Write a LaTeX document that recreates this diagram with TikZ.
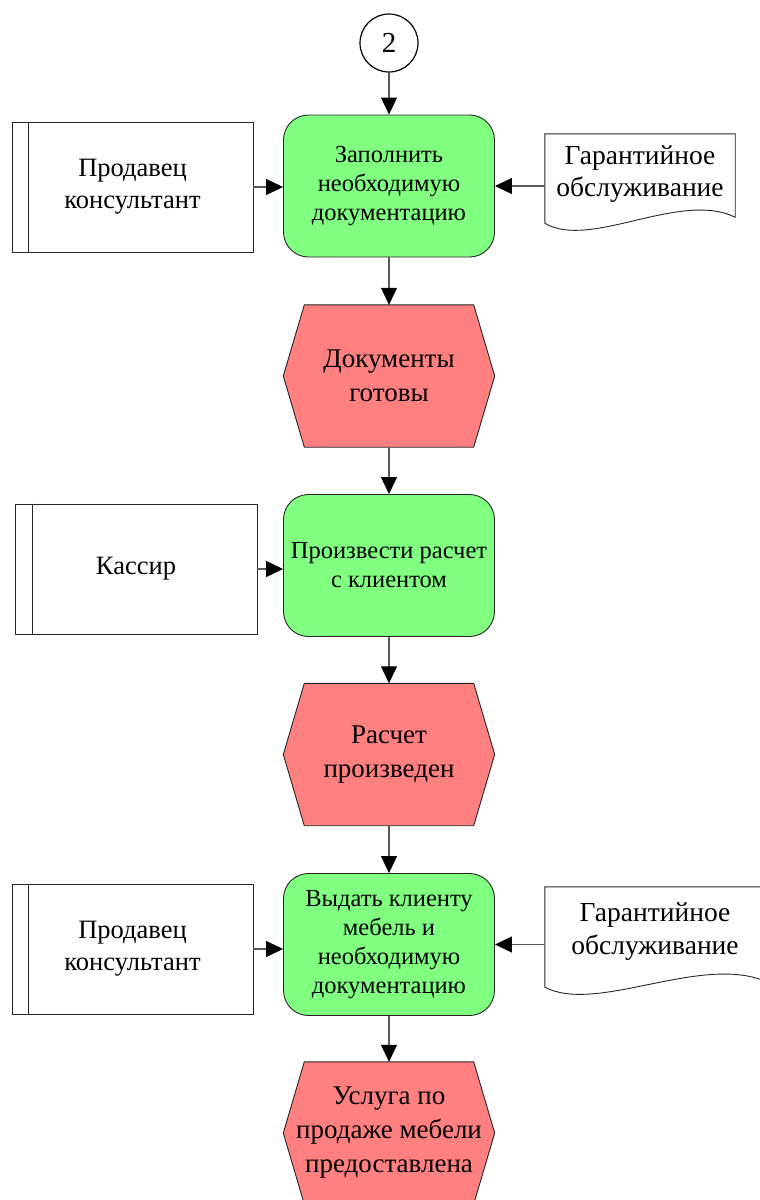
\documentclass[tikz,border=0pt]{standalone}
\usepackage{fontspec}
\setmainfont{Liberation Serif}
\usetikzlibrary{arrows.meta,calc,backgrounds}
\definecolor{funcgreen}{HTML}{80FF80}
\definecolor{evtred}{HTML}{FF8080}
\definecolor{edgegray}{HTML}{5A5A5A}
\newcommand\hexbg[1]{%
  \begin{pgfonlayer}{background}
    \path[hexshape] (#1.west) -- ($(#1.north west)+(21,0)$) -- ($(#1.north east)+(-21,0)$) -- (#1.east)
      -- ($(#1.south east)+(-21,0)$) -- ($(#1.south west)+(21,0)$) -- cycle;
  \end{pgfonlayer}}
\begin{document}
\begin{tikzpicture}[x=1pt,y=-1pt,
  conn/.style={draw=edgegray, line width=1.1pt},
  arr/.style={conn, -{Triangle[width=16pt,length=17pt,color=black]}},
  func/.style={draw=black!85, line width=0.9pt, fill=funcgreen, rounded corners=25pt,
    minimum width=211pt, minimum height=142pt, align=center, inner sep=0pt,
    font=\fontsize{24.5}{29}\selectfont},
  evt/.style={minimum width=211pt, minimum height=142pt, align=center, inner sep=0pt,
    font=\fontsize{27}{34}\selectfont},
  hexshape/.style={draw=black!85, line width=0.9pt, fill=evtred},
  actor/.style={draw=black!85, line width=0.9pt, fill=white, minimum width=241pt,
    minimum height=130pt, align=center, inner sep=0pt, font=\fontsize{26.5}{32}\selectfont},
  docnode/.style={align=center, inner sep=0pt, font=\fontsize{27.5}{32.5}\selectfont},
  docshape/.style={draw=black!85, line width=0.9pt, fill=white},
  conncircle/.style={circle, draw=black, line width=1.2pt, minimum size=58pt, inner sep=0pt,
    font=\fontsize{29}{29}\selectfont},
]
\useasboundingbox (0,0) rectangle (760,1200);
\begin{pgfonlayer}{background}
\fill[white] (0,0) rectangle (760,1200);
\end{pgfonlayer}

% connector circle
\node[conncircle] (c) at (389,43) {2};

% functions
\node[func] (g1) at (389,186) {Заполнить\\необходимую\\документацию};
\node[func] (g2) at (389,565.5) {Произвести расчет\\с клиентом};
\node[func] (g3) at (389,944.5) {Выдать клиенту\\мебель и\\необходимую\\документацию};

% events
\node[evt] (e1) at (389,376) {Документы\\готовы};
\hexbg{e1}
\node[evt] (e2) at (389,754.5) {Расчет\\произведен};
\hexbg{e2}
\node[evt] (e3) at (389,1133) {Услуга по\\продаже мебели\\предоставлена};
\hexbg{e3}

% actors
\node[actor] (a1) at (132.5,187) {Продавец\\консультант};
\draw[draw=black!85, line width=0.9pt] ($(a1.north west)+(17,0)$) -- ($(a1.south west)+(17,0)$);
\node[actor, minimum width=242pt] (a2) at (136,569) {Кассир};
\draw[draw=black!85, line width=0.9pt] ($(a2.north west)+(18,0)$) -- ($(a2.south west)+(18,0)$);
\node[actor] (a3) at (132.5,949) {Продавец\\консультант};
\draw[draw=black!85, line width=0.9pt] ($(a3.north west)+(17,0)$) -- ($(a3.south west)+(17,0)$);

% documents
\node[docnode, minimum width=190pt, minimum height=80pt] (d1) at (640,174) {Гарантийное\\обслуживание};
\begin{pgfonlayer}{background}
\path[docshape] (d1.north west) -- ($(d1.south west)+(0,9)$)
  .. controls ($(d1.south west)+(45,36)$) and ($(d1.south east)+(-55,-24)$) .. ($(d1.south east)+(0,3)$)
  -- (d1.north east) -- cycle;
\end{pgfonlayer}
\node[docnode, minimum width=220pt, minimum height=89pt] (d2) at (655,931.5) {Гарантийное\\обслуживание};
\begin{pgfonlayer}{background}
\path[docshape] (d2.north west) -- ($(d2.south west)+(0,11)$)
  .. controls ($(d2.south west)+(52,38)$) and ($(d2.south east)+(-65,-22)$) .. ($(d2.south east)+(0,5)$)
  -- (d2.north east) -- cycle;
\end{pgfonlayer}

% main flow
\draw[arr] (c) -- (g1);
\draw[arr] (g1) -- (e1);
\draw[arr] (e1) -- (g2);
\draw[arr] (g2) -- (e2);
\draw[arr] (e2) -- (g3);
\draw[arr] (g3) -- (e3);

% side inputs
\draw[arr] (a1.east) -- (a1.east -| g1.west);
\draw[arr] (a2.east) -- (a2.east -| g2.west);
\draw[arr] (a3.east) -- (a3.east -| g3.west);
\draw[arr] (g1.east -| d1.west) -- (g1.east);
\draw[arr] (g3.east -| d2.west) -- (g3.east);
\end{tikzpicture}
\end{document}
